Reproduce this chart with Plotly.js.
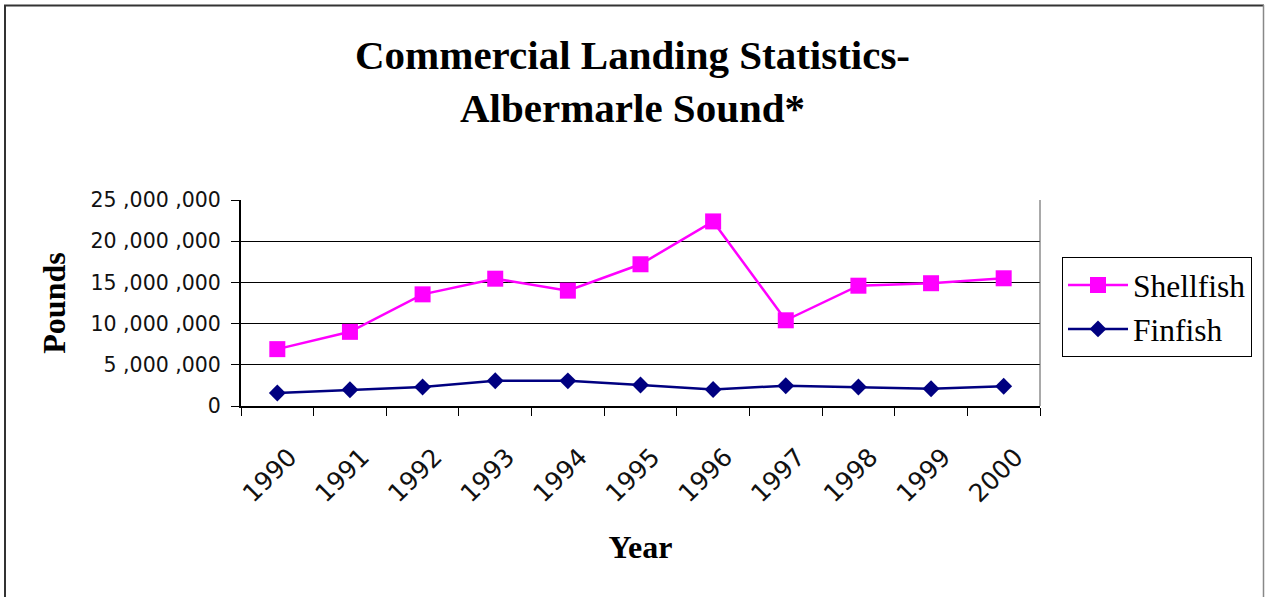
<!DOCTYPE html>
<html>
<head>
<meta charset="utf-8">
<script src="https://cdn.plot.ly/plotly-3.0.1.min.js"></script>
<style>
  html, body { margin: 0; padding: 0; background: #fff; }
  #chart { width: 1265px; height: 597px; }
</style>
</head>
<body>
<div id="chart"></div>
<script>
const years = ["1990","1991","1992","1993","1994","1995","1996","1997","1998","1999","2000"];
const shellfish = [6900000, 9000000, 13550000, 15450000, 14000000, 17200000, 22400000, 10400000, 14600000, 14900000, 15500000];
const finfish = [1580000, 1980000, 2300000, 3070000, 3050000, 2550000, 2000000, 2460000, 2300000, 2100000, 2390000];
const yTickVals = [0, 5000000, 10000000, 15000000, 20000000, 25000000];
const yTickText = ["0", "5 ,000 ,000", "10 ,000 ,000", "15 ,000 ,000", "20 ,000 ,000", "25 ,000 ,000"];

const L = 241, R = 1040, T = 200, B = 406;
const W = R - L, H = B - T;
const px = x => (x - L) / W;
const py = y => (B - y) / H;

const traces = [
  {
    x: years, y: shellfish, name: "Shellfish", type: "scatter", mode: "lines+markers",
    line: { color: "#FF00FF", width: 2.5 },
    marker: { symbol: "square", size: 16, color: "#FF00FF" }
  },
  {
    x: years, y: finfish, name: "Finfish", type: "scatter", mode: "lines+markers",
    line: { color: "#000080", width: 2.5 },
    marker: { symbol: "diamond", size: 13, color: "#000080" }
  }
];

const layout = {
  width: 1265, height: 597,
  margin: { l: L, r: 1265 - R, t: T, b: 597 - B },
  paper_bgcolor: "#fff", plot_bgcolor: "#fff",
  showlegend: true,
  title: {
    text: "<b>Commercial Landing Statistics-<br>Albermarle Sound*</b>",
    font: { family: "Liberation Serif, Times New Roman, serif", size: 41, color: "#000" },
    x: 0.5, xanchor: "center", y: 0.885, yanchor: "top"
  },
  xaxis: {
    type: "category",
    range: [-0.5, 10.5],
    tickson: "boundaries",
    ticks: "outside", ticklen: 8, tickcolor: "#000", tickwidth: 1,
    showline: true, linecolor: "#000", linewidth: 1.5,
    showgrid: false, zeroline: false,
    tickangle: -45,
    ticklabelstandoff: 25,
    ticklabelshift: 12,
    tickfont: { family: "DejaVu Sans, Verdana, sans-serif", size: 25, color: "#111" },
    title: {
      text: "<b>Year</b>", standoff: 28,
      font: { family: "Liberation Serif, Times New Roman, serif", size: 32, color: "#000" }
    },
    automargin: false
  },
  yaxis: {
    range: [0, 25000000],
    tickvals: yTickVals, ticktext: yTickText,
    ticks: "outside", ticklen: 8, tickcolor: "#000", tickwidth: 1,
    showline: true, linecolor: "#000", linewidth: 2,
    showgrid: true, gridcolor: "#000", gridwidth: 1,
    zeroline: false,
    ticklabelstandoff: 6,
    tickfont: { family: "DejaVu Sans, Verdana, sans-serif", size: 20.5, color: "#111" },
    title: {
      text: "<b>Pounds</b>", standoff: 15,
      font: { family: "Liberation Serif, Times New Roman, serif", size: 32, color: "#000" }
    },
    automargin: false
  },
  legend: {
    x: px(1062), y: py(257), xanchor: "left", yanchor: "top",
    bordercolor: "#000", borderwidth: 1, bgcolor: "#fff",
    font: { family: "Liberation Serif, Times New Roman, serif", size: 31.5, color: "#000" },
    itemwidth: 60,
    tracegroupgap: 2
  },
  shapes: [
    { type: "line", xref: "paper", yref: "paper", x0: 1, x1: 1, y0: 0, y1: 1, line: { color: "#555", width: 1 } },
    { type: "line", xref: "paper", yref: "paper", x0: px(5), x1: px(5), y0: py(5), y1: py(620), line: { color: "#333", width: 2 } },
    { type: "line", xref: "paper", yref: "paper", x0: px(4), x1: px(1264), y0: py(5.5), y1: py(5.5), line: { color: "#333", width: 2 } },
    { type: "line", xref: "paper", yref: "paper", x0: px(1263.5), x1: px(1263.5), y0: py(5), y1: py(620), line: { color: "#888", width: 1.5 } }
  ]
};

Plotly.newPlot("chart", traces, layout, { displayModeBar: false, staticPlot: true });
</script>
</body>
</html>
